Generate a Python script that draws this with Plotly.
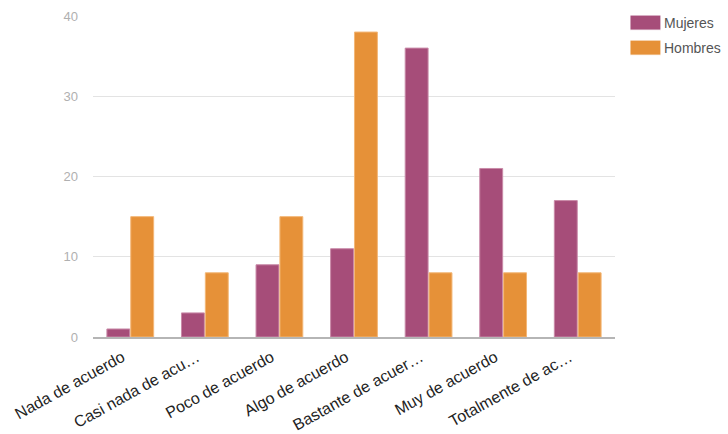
import plotly.graph_objects as go

categorias = ["Nada de acuerdo", "Casi nada de acu…", "Poco de acuerdo", "Algo de acuerdo",
              "Bastante de acuer…", "Muy de acuerdo", "Totalmente de ac…"]
mujeres = [1, 3, 9, 11, 36, 21, 17]
hombres = [15, 8, 15, 38, 8, 8, 8]
series = ["Mujeres", "Hombres"]
colores = ["#a64d79", "#e69138"]
bordes = ["#c98aa8", "#f3b777"]
ticks_y = [0, 10, 20, 30, 40]

fig = go.Figure()
for nombre, valores, color, borde in zip(series, [mujeres, hombres], colores, bordes):
    fig.add_trace(go.Bar(
        x=categorias, y=valores, name=nombre,
        marker=dict(color=color, line=dict(color=borde, width=1)),
        showlegend=False,
    ))

# Legend drawn as swatches + labels to the right of the plot
for i, (nombre, color) in enumerate(zip(series, colores)):
    y_top = 1.003 - i * 0.078
    fig.add_shape(type="rect", xref="paper", yref="paper",
                  x0=1.0287, x1=1.088, y0=y_top - 0.047, y1=y_top,
                  fillcolor=color, line=dict(color="#ffffff", width=1))
    fig.add_annotation(xref="paper", yref="paper", x=1.090, y=y_top - 0.0235,
                       text=nombre, showarrow=False, xanchor="left", yanchor="middle",
                       font=dict(family="Liberation Sans, Arial", size=14, color="#555555"))

fig.update_layout(
    width=728, height=434,
    margin=dict(l=93, r=113, t=16, b=97),
    paper_bgcolor="white", plot_bgcolor="white",
    barmode="group", bargap=0.36, bargroupgap=0.04,
    font=dict(family="Liberation Sans, Arial", size=13, color="#222222"),
    xaxis=dict(tickangle=-29, showline=True, linecolor="#b5b5b5", linewidth=2,
               automargin=False, ticks="", ticklabelstandoff=3, ticklabelshift=-8,
               tickfont=dict(size=16, color="#222222")),
    yaxis=dict(range=[0, 40], tickvals=ticks_y, showgrid=True, gridcolor="#e3e3e3",
               gridwidth=1, zeroline=False, ticks="", ticklabelstandoff=14,
               automargin=False, tickfont=dict(size=13, color="#b0b0b0")),
)

fig.write_html("out.html")
